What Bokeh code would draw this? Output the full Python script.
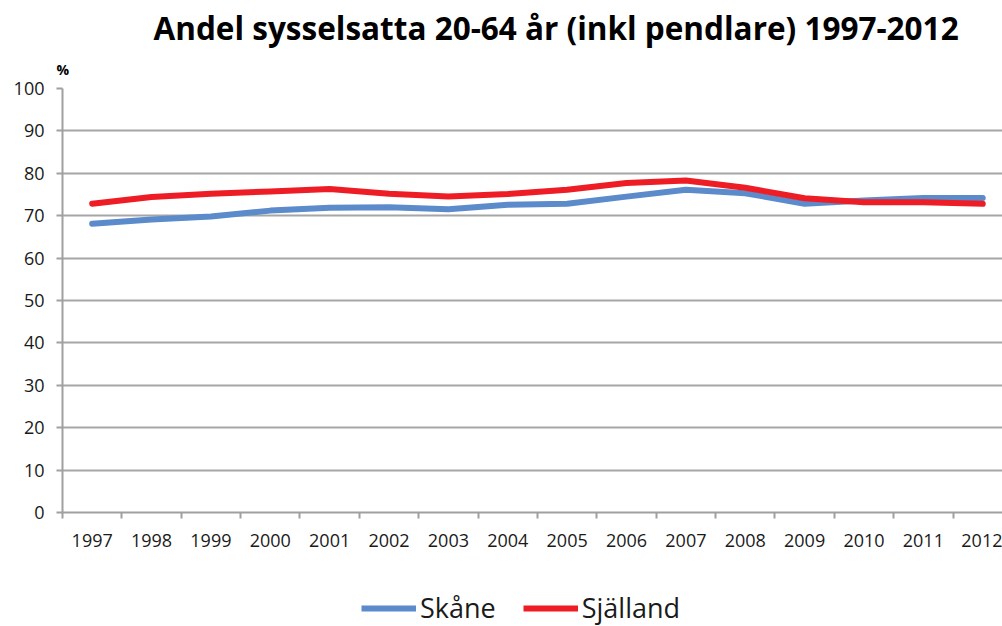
from bokeh.plotting import figure
from bokeh.layouts import column
from bokeh.models import FixedTicker, Legend, LegendItem, Title, Range1d
from bokeh.embed import file_html
from bokeh.resources import INLINE

years = [1997, 1998, 1999, 2000, 2001, 2002, 2003, 2004, 2005, 2006, 2007, 2008, 2009, 2010, 2011, 2012]
skane = [68.1, 69.1, 69.8, 71.2, 71.9, 72.0, 71.5, 72.6, 72.8, 74.5, 76.1, 75.3, 72.8, 73.6, 74.2, 74.2]
sjalland = [72.8, 74.4, 75.2, 75.7, 76.3, 75.2, 74.5, 75.1, 76.1, 77.7, 78.3, 76.6, 74.1, 73.2, 73.2, 72.8]
y_ticks = [0, 10, 20, 30, 40, 50, 60, 70, 80, 90, 100]
series_names = ["Skåne", "Själland"]
series_colors = ["#5B8BCB", "#EE1D25"]

FONT = "Open Sans"

p = figure(width=1002, height=570, output_backend="svg", toolbar_location=None,
           x_range=Range1d(years[0] - 0.5, years[-1] + 0.333), y_range=Range1d(0, 100),
           min_border_left=62, min_border_right=0, min_border_top=88, min_border_bottom=58)
p.outline_line_color = None
p.background_fill_color = "white"
p.border_fill_color = "white"

r1 = p.line(years, skane, line_color=series_colors[0], line_width=6, line_cap="round", line_join="round")
r2 = p.line(years, sjalland, line_color=series_colors[1], line_width=6, line_cap="round", line_join="round")

# x axis
p.xaxis.ticker = FixedTicker(ticks=years, minor_ticks=[y - 0.5 for y in years] + [years[-1] + 0.5])
p.xaxis.major_tick_out = 0
p.xaxis.major_tick_in = 0
p.xaxis.minor_tick_out = 6
p.xaxis.minor_tick_in = 0
p.xaxis.minor_tick_line_color = "#A0A0A0"
p.xaxis.minor_tick_line_width = 2
p.xaxis.axis_line_color = "#A0A0A0"
p.xaxis.axis_line_width = 2
p.xaxis.major_label_text_font = FONT
p.xaxis.major_label_text_font_size = "18px"
p.xaxis.major_label_text_color = "#1a1a1a"
p.xaxis.major_label_standoff = 15
p.xgrid.visible = False

# y axis
p.yaxis.ticker = FixedTicker(ticks=y_ticks)
p.yaxis.major_tick_out = 6
p.yaxis.major_tick_in = 0
p.yaxis.minor_tick_out = 0
p.yaxis.minor_tick_in = 0
p.yaxis.major_tick_line_color = "#A0A0A0"
p.yaxis.major_tick_line_width = 2
p.yaxis.axis_line_color = "#A0A0A0"
p.yaxis.axis_line_width = 2
p.yaxis.major_label_text_font = FONT
p.yaxis.major_label_text_font_size = "18px"
p.yaxis.major_label_text_color = "#1a1a1a"
p.yaxis.major_label_standoff = 12
p.ygrid.grid_line_color = "#A6A6A6"
p.ygrid.grid_line_width = 2

# "%" unit label (closest to frame), then main title above it
pct = Title(text="%", align="left", offset=-6, text_font=FONT, text_font_size="14px",
            text_font_style="bold", text_color="#000000", standoff=19)
p.add_layout(pct, "above")

title = Title(text="Andel sysselsatta 20-64 år (inkl pendlare) 1997-2012", align="left",
              offset=91, text_font=FONT, text_font_size="31.5px", text_font_style="bold",
              text_color="#000000", standoff=0)
p.add_layout(title, "above")

# legend strip below the chart (proxy renderers lie outside the visible range)
lp = figure(width=1002, height=56, output_backend="svg", toolbar_location=None,
            x_range=Range1d(0, 1), y_range=Range1d(0, 1),
            min_border_left=0, min_border_right=0, min_border_top=0, min_border_bottom=0)
lp.axis.visible = False
lp.grid.visible = False
lp.outline_line_color = None
l1 = lp.line([-2, -1], [-2, -1], line_color=series_colors[0], line_width=6)
l2 = lp.line([-2, -1], [-2, -1], line_color=series_colors[1], line_width=6)

legend = Legend(items=[LegendItem(label=series_names[0], renderers=[l1]),
                       LegendItem(label=series_names[1], renderers=[l2])],
                orientation="horizontal", location=(299, 0), margin=0, padding=5,
                label_text_font=FONT, label_text_font_size="27px", label_text_color="#1a1a1a",
                glyph_width=55, glyph_height=22, label_standoff=4, spacing=27,
                border_line_color=None, background_fill_alpha=0)
lp.add_layout(legend, "center")

layout = column(p, lp, spacing=0)
open("out.html", "w").write(file_html(layout, INLINE))
